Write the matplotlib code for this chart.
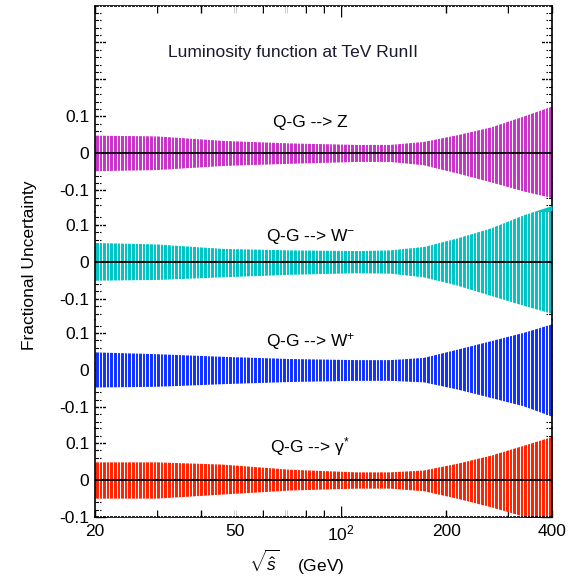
import numpy as np
import matplotlib
matplotlib.use("Agg")
import matplotlib.pyplot as plt
from matplotlib.ticker import FixedLocator, FuncFormatter, NullFormatter

plt.rcParams['font.family'] = ['Liberation Sans', 'DejaVu Sans']
plt.rcParams['mathtext.fontset'] = 'custom'
plt.rcParams['mathtext.rm'] = 'Liberation Sans'
plt.rcParams['mathtext.it'] = 'Liberation Sans:italic'
plt.rcParams['mathtext.bf'] = 'Liberation Sans:bold'

# ---- data ----
sqrt_s = [20, 30, 46, 72, 111, 138, 172, 214, 267, 332, 400]

channels = ["Q-G --> Z", "Q-G --> W$^{\\mathregular{-}}$",
            "Q-G --> W$^{\\mathregular{+}}$", "Q-G --> γ$^{\\mathregular{*}}$"]

z_upper = [0.049, 0.047, 0.035, 0.028, 0.024, 0.024, 0.032, 0.050, 0.071, 0.101, 0.128]
z_lower = [-0.047, -0.044, -0.033, -0.027, -0.022, -0.022, -0.031, -0.053, -0.077, -0.102, -0.120]

wm_upper = [0.052, 0.048, 0.036, 0.032, 0.030, 0.032, 0.041, 0.064, 0.091, 0.127, 0.152]
wm_lower = [-0.050, -0.048, -0.041, -0.034, -0.030, -0.031, -0.041, -0.063, -0.091, -0.118, -0.140]

wp_upper = [0.049, 0.044, 0.037, 0.031, 0.028, 0.028, 0.034, 0.056, 0.079, 0.102, 0.125]
wp_lower = [-0.046, -0.044, -0.037, -0.031, -0.028, -0.028, -0.032, -0.051, -0.074, -0.097, -0.125]

ga_upper = [0.049, 0.049, 0.043, 0.029, 0.022, 0.022, 0.027, 0.045, 0.067, 0.094, 0.118]
ga_lower = [-0.049, -0.049, -0.038, -0.027, -0.022, -0.022, -0.029, -0.049, -0.072, -0.098, -0.125]

uppers = [z_upper, wm_upper, wp_upper, ga_upper]
lowers = [z_lower, wm_lower, wp_lower, ga_lower]

x_major = [100]
x_minor = [20, 30, 40, 50, 60, 70, 80, 90, 200, 300, 400]
x_minor_labels = {20: "20", 50: "50", 200: "200", 400: "400"}
y_labels = {-0.1: "-0.1", 0.0: "0", 0.1: "0.1"}

title = "Luminosity function at TeV RunII"

# ---- styling / layout ----
colors = ["#C832C8", "#00C4C4", "#1030FF", "#FF2200"]
FS = 12.5
W, H = 568, 577
left_px, right_px = 95, 552
# (top_px, bottom_px, zero_px) per panel
panels_px = [(6, 212, 153.3), (212, 320, 261.7), (320, 428, 370), (428, 517, 480)]
px_per_unit = 370.0

fig = plt.figure(figsize=(W / 100, H / 100), dpi=100)

axes = []
for i, (top, bot, zero) in enumerate(panels_px):
    ax = fig.add_axes([left_px / W, 1 - bot / H, (right_px - left_px) / W, (bot - top) / H])
    ax.set_xscale('log')
    ax.set_xlim(20, 400)
    ax.set_ylim(-(bot - zero) / px_per_unit, (zero - top) / px_per_unit)
    for sp in ax.spines.values():
        sp.set_linewidth(1.2)
    if i != 0:
        ax.spines['top'].set_visible(False)
    if i != 3:
        ax.spines['bottom'].set_visible(False)

    up = uppers[i]
    lo = lowers[i]
    ax.fill_between(sqrt_s, lo, up, color=colors[i], linewidth=0,
                    zorder=2, clip_on=(i in (0, 3)))
    # decorative white stripes mimicking the histogram-bar texture
    stripes = np.geomspace(20, 400, 128)[1:-1]
    ax.vlines(stripes, -1, 1, colors='white', linewidth=0.75, zorder=3)
    # zero line
    if i == 2:
        ax.axhline(0, color='black', lw=1.0, zorder=1)
    else:
        ax.axhline(0, color='black', lw=1.3, zorder=4)

    # y ticks
    lo_lim, hi_lim = ax.get_ylim()
    majors = [round(v, 2) for v in np.arange(-0.3, 0.5, 0.1) if lo_lim - 1e-9 <= v <= hi_lim + 1e-9]
    minors = [round(v, 2) for v in np.arange(-0.3, 0.5, 0.02) if lo_lim - 1e-9 <= v <= hi_lim + 1e-9]
    ax.yaxis.set_major_locator(FixedLocator(majors))
    ax.yaxis.set_minor_locator(FixedLocator(minors))
    ax.yaxis.set_major_formatter(FuncFormatter(
        lambda v, p: y_labels.get(round(v, 2) + 0.0, "")))
    ax.tick_params(axis='y', which='both', direction='in', left=True, right=True,
                   labelsize=FS, pad=4)
    ax.tick_params(axis='y', which='major', length=8, width=1.0)
    ax.tick_params(axis='y', which='minor', length=4, width=0.8)

    # x ticks
    ax.xaxis.set_major_locator(FixedLocator(x_major))
    ax.xaxis.set_minor_locator(FixedLocator(x_minor))
    if i == 3:
        ax.xaxis.set_major_formatter(FuncFormatter(lambda v, p: "$10^{2}$"))
        ax.xaxis.set_minor_formatter(FuncFormatter(
            lambda v, p: x_minor_labels.get(int(round(v)), "")))
        ax.tick_params(axis='x', which='both', direction='in', bottom=True, top=False,
                       labelsize=FS, pad=5)
        ax.tick_params(axis='x', which='major', length=8, width=1.0)
        ax.tick_params(axis='x', which='minor', length=5, width=1.0)
    elif i == 0:
        ax.xaxis.set_major_formatter(NullFormatter())
        ax.xaxis.set_minor_formatter(NullFormatter())
        ax.tick_params(axis='x', which='both', direction='in', bottom=False, top=True,
                       labelbottom=False)
        ax.tick_params(axis='x', which='major', length=8, width=1.0)
        ax.tick_params(axis='x', which='minor', length=5, width=1.0)
    else:
        ax.tick_params(axis='x', which='both', bottom=False, top=False,
                       labelbottom=False)

    # channel label
    label_y_px = [122, 237, 342, 447][i]
    ax.text(82, (zero - label_y_px) / px_per_unit, channels[i], ha='center',
            va='center', fontsize=FS, zorder=5)
    axes.append(ax)

fig.text((158 + 427) / 2 / W, 1 - 52 / H, title, ha='center', va='center',
         fontsize=FS, color='#1a1a2e')

fig.text(30 / W, 1 - 265 / H, "Fractional Uncertainty", rotation=90,
         ha='center', va='center', fontsize=FS)
fig.text(297 / W, 1 - 562 / H, r"$\sqrt{\hat{s}}$    (GeV)", ha='center',
         va='center', fontsize=FS)

fig.savefig("out.png", dpi=100)
